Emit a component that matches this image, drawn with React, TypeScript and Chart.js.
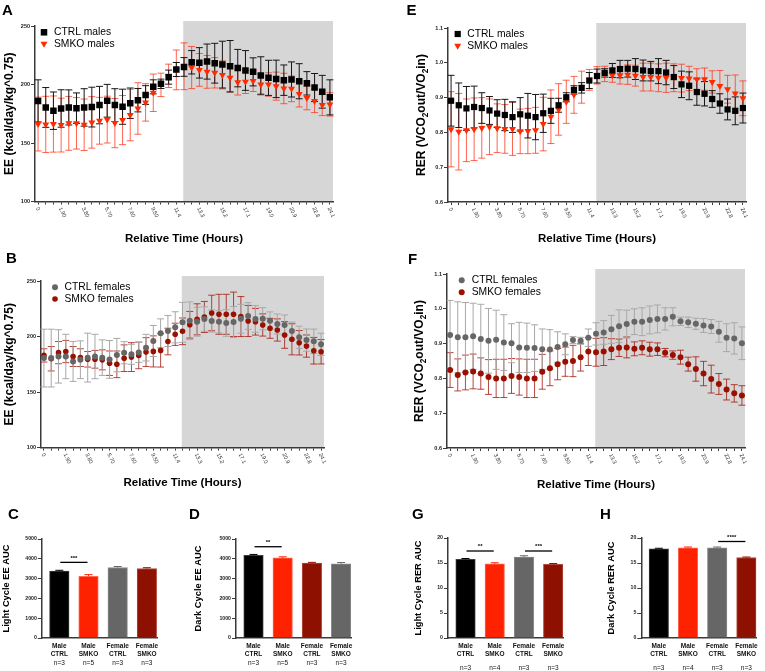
import React, { useEffect, useRef } from 'react';
import { Chart, registerables } from 'chart.js';

Chart.register(...registerables);

const FONT = '"Liberation Sans", Arial, Helvetica, sans-serif';
Chart.defaults.font.family = FONT;

// ---------------- data ----------------
const timeTickLabels = ['0', '1.90', '3.80', '5.70', '7.60', '9.50', '11.4', '13.3', '15.2', '17.1', '19.0', '20.9', '22.8', '24.1'];
const timeTickIndex = [0, 3, 6, 9, 12, 15, 18, 21, 24, 27, 30, 33, 36, 38];
const darkPhaseStart = 18.9; // measurement index where the dark phase starts

// A: EE, males
const eeCtrlMales = [186, 180.4, 177.6, 179.5, 180.4, 179.8, 180.4, 180.7, 182.4, 186.1, 182.4, 181, 184, 186.6, 191, 198, 200.6, 206.3, 212.8, 215, 219, 218.5, 219.6, 218.2, 217, 215.6, 214, 212, 210.8, 207.7, 205.7, 204.8, 203.7, 204.3, 202.8, 201, 197.4, 193.8, 189];
const eeCtrlMalesSD = [18, 17, 16, 16, 15, 13, 16, 17, 16, 14, 14, 15, 13, 10, 8, 6, 4, 6, 6, 8, 10, 13, 15, 17, 20, 22, 16, 17, 12, 16, 15, 16, 13, 15, 15, 10, 12, 14, 15];
const eeSmkoMales = [166.2, 165.9, 166.2, 165.3, 166.8, 166.8, 165.6, 167.6, 169, 170, 167, 169.6, 173.9, 179.5, 184.7, 192.9, 199.7, 207.4, 212.5, 215.6, 214.5, 212.5, 210.8, 210, 208.2, 205.7, 202, 202.3, 203, 200, 200, 198.6, 196.6, 196.3, 191.8, 188.4, 186, 182.4, 183];
const eeSmkoMalesSD = [23, 24, 24, 23, 23, 22, 22, 22, 20, 20, 21, 21, 22, 22, 16, 16, 10, 10, 17, 20, 18, 14, 14, 13, 12, 12, 11, 10, 9, 9, 10, 12, 13, 11, 11, 10, 10, 9, 10];

// E: RER, males
const rerCtrlMales = [0.891, 0.878, 0.869, 0.873, 0.870, 0.863, 0.854, 0.850, 0.844, 0.852, 0.848, 0.844, 0.855, 0.862, 0.878, 0.901, 0.922, 0.928, 0.949, 0.962, 0.971, 0.978, 0.982, 0.983, 0.982, 0.978, 0.976, 0.976, 0.972, 0.959, 0.938, 0.934, 0.916, 0.911, 0.896, 0.883, 0.866, 0.862, 0.870];
const rerCtrlMalesSD = [0.073, 0.064, 0.063, 0.06, 0.044, 0.04, 0.04, 0.045, 0.044, 0.048, 0.064, 0.065, 0.055, 0.036, 0.02, 0.013, 0.012, 0.015, 0.023, 0.02, 0.012, 0.02, 0.025, 0.024, 0.03, 0.03, 0.028, 0.036, 0.035, 0.033, 0.038, 0.04, 0.038, 0.035, 0.024, 0.028, 0.03, 0.04, 0.043];
const rerSmkoMales = [0.809, 0.802, 0.806, 0.809, 0.813, 0.816, 0.812, 0.810, 0.810, 0.803, 0.804, 0.806, 0.824, 0.845, 0.866, 0.888, 0.908, 0.930, 0.951, 0.964, 0.968, 0.964, 0.964, 0.966, 0.963, 0.959, 0.959, 0.957, 0.957, 0.957, 0.956, 0.955, 0.953, 0.953, 0.945, 0.933, 0.924, 0.912, 0.898];
const rerSmkoMalesSD = [0.108, 0.11, 0.09, 0.09, 0.087, 0.08, 0.07, 0.07, 0.076, 0.064, 0.065, 0.066, 0.077, 0.077, 0.074, 0.062, 0.053, 0.046, 0.03, 0.025, 0.022, 0.02, 0.025, 0.028, 0.03, 0.04, 0.04, 0.04, 0.042, 0.04, 0.04, 0.035, 0.03, 0.032, 0.032, 0.045, 0.04, 0.053, 0.05];

// B: EE, females
const eeCtrlFemales = [180.6, 180.6, 182.1, 182, 177.6, 179.1, 181, 182, 181, 179.4, 183.3, 185.4, 184, 185.7, 190, 196, 202.9, 205, 208.3, 212.8, 214.2, 213.3, 215.8, 214, 213.3, 212.2, 213, 216, 218.5, 215.8, 216, 214.2, 211.3, 210.4, 205, 199.3, 196.8, 195.7, 193];
const eeCtrlFemalesSD = [26, 26, 24, 20, 18, 17, 22, 20, 16, 17, 15, 10, 9, 9, 12, 14, 13, 14, 14, 18, 17, 13, 11, 10, 10, 12, 14, 13, 12, 12, 10, 8, 9, 9, 8, 10, 10, 11, 10];
const eeSmkoFemales = [183, 180, 185.5, 186.5, 182, 181, 179.5, 179.5, 179, 176, 175, 180.5, 181.5, 183, 186, 186.6, 187.5, 195.5, 202, 204.7, 210.6, 215.5, 217.6, 221.2, 220, 220, 220, 218, 214, 213.3, 210.4, 207.4, 205.9, 201.4, 197.5, 194.4, 191.4, 187.2, 186.3];
const eeSmkoFemalesSD = [6, 11, 10, 10, 9, 8, 7, 8, 9, 11, 12, 12, 13, 12, 13, 14, 15, 12, 10, 12, 12, 14, 14, 16, 18, 18, 20, 18, 14, 12, 10, 9, 10, 12, 14, 11, 10, 12, 11];

// F: RER, females
const rerCtrlFemales = [0.925, 0.918, 0.918, 0.921, 0.913, 0.908, 0.911, 0.903, 0.901, 0.889, 0.888, 0.887, 0.884, 0.883, 0.890, 0.898, 0.910, 0.908, 0.917, 0.928, 0.932, 0.941, 0.950, 0.956, 0.963, 0.963, 0.968, 0.971, 0.971, 0.977, 0.964, 0.961, 0.957, 0.952, 0.949, 0.934, 0.917, 0.915, 0.901];
const rerCtrlFemalesSD = [0.099, 0.102, 0.1, 0.095, 0.1, 0.093, 0.085, 0.08, 0.056, 0.072, 0.071, 0.067, 0.058, 0.057, 0.044, 0.03, 0.01, 0.01, 0.025, 0.032, 0.034, 0.04, 0.047, 0.04, 0.037, 0.04, 0.04, 0.04, 0.032, 0.026, 0.012, 0.015, 0.016, 0.02, 0.02, 0.03, 0.04, 0.045, 0.047];
const rerSmkoFemales = [0.824, 0.810, 0.817, 0.820, 0.814, 0.804, 0.800, 0.800, 0.807, 0.804, 0.800, 0.800, 0.819, 0.829, 0.841, 0.848, 0.850, 0.861, 0.877, 0.875, 0.877, 0.884, 0.888, 0.889, 0.885, 0.888, 0.884, 0.884, 0.874, 0.867, 0.861, 0.841, 0.827, 0.814, 0.798, 0.784, 0.768, 0.757, 0.751];
const rerSmkoFemalesSD = [0.05, 0.046, 0.05, 0.05, 0.045, 0.05, 0.055, 0.055, 0.05, 0.052, 0.055, 0.055, 0.05, 0.05, 0.045, 0.042, 0.045, 0.04, 0.04, 0.04, 0.04, 0.03, 0.025, 0.03, 0.02, 0.02, 0.02, 0.018, 0.012, 0.012, 0.02, 0.02, 0.035, 0.035, 0.04, 0.03, 0.03, 0.025, 0.028];

// C, D, G, H: AUC bars
const groupLabels = [['Male', 'CTRL'], ['Male', 'SMKO'], ['Female', 'CTRL'], ['Female', 'SMKO']];
const groupNsEE = ['n=3', 'n=5', 'n=3', 'n=3'];
const groupNsRER = ['n=3', 'n=4', 'n=3', 'n=3'];
const lightEE = [3380, 3120, 3560, 3510];
const lightEESD = [40, 80, 50, 40];
const darkEE = [4180, 4050, 3780, 3750];
const darkEESD = [40, 50, 40, 60];
const lightRER = [15.75, 14.85, 16.2, 14.75];
const lightRERSD = [0.15, 0.2, 0.25, 0.15];
const darkRER = [17.85, 18.05, 18.05, 16.1];
const darkRERSD = [0.1, 0.15, 0.15, 0.1];
const sigLightEE = [{ from: 0, to: 1, y: 3820, label: '***' }];
const sigDarkEE = [{ from: 0, to: 1, y: 4610, label: '**' }];
const sigLightRER = [{ from: 0, to: 1, y: 17.4, label: '**' }, { from: 2, to: 3, y: 17.4, label: '***' }];
const sigDarkRER = [{ from: 2, to: 3, y: 19.3, label: '****' }];

// ---------------- styles ----------------
const AXIS = '#3a3a3a';
const C_BLACK = '#000000';
const C_RED = '#ff2a00';
const C_GRAY = '#666666';
const C_DRED = '#9a1000';
const SHADE = '#d6d6d6';

type Seg = { t: string; sub?: boolean };
type Box = { x: number; y: number; w: number; h: number };
type Area = { l: number; t: number; r: number; b: number };

function drawRich(ctx: CanvasRenderingContext2D, segs: Seg[], cx: number, cy: number, size: number) {
  const main = `bold ${size}px ${FONT}`;
  const sub = `bold ${(size * 0.68).toFixed(1)}px ${FONT}`;
  let total = 0;
  const widths = segs.map((s) => {
    ctx.font = s.sub ? sub : main;
    const w = ctx.measureText(s.t).width;
    total += w;
    return w;
  });
  ctx.save();
  ctx.translate(cx, cy);
  ctx.rotate(-Math.PI / 2);
  ctx.textAlign = 'left';
  ctx.textBaseline = 'middle';
  ctx.fillStyle = '#000';
  let x = -total / 2;
  segs.forEach((s, i) => {
    ctx.font = s.sub ? sub : main;
    ctx.fillText(s.t, x, s.sub ? size * 0.3 : 0);
    x += widths[i];
  });
  ctx.restore();
}

function drawMarker(ctx: CanvasRenderingContext2D, style: string, x: number, y: number, r: number, color: string) {
  ctx.save();
  ctx.fillStyle = color;
  ctx.beginPath();
  if (style === 'rect') {
    const h = r * Math.SQRT1_2;
    ctx.rect(x - h, y - h, 2 * h, 2 * h);
  } else if (style === 'triangle') {
    for (let k = 0; k < 3; k++) {
      const ang = Math.PI + (k * 2 * Math.PI) / 3;
      const px = x + Math.sin(ang) * r;
      const py = y - Math.cos(ang) * r;
      if (k === 0) ctx.moveTo(px, py);
      else ctx.lineTo(px, py);
    }
    ctx.closePath();
  } else {
    ctx.arc(x, y, r, 0, Math.PI * 2);
  }
  ctx.fill();
  ctx.restore();
}

type Series = { label: string; mean: number[]; sd: number[]; color: string; errColor: string; style: string; radius: number };

type TimePanel = {
  box: Box; area: Area; yMin: number; yMax: number; yStep: number; yDec: number;
  letter: string; letterPos: [number, number]; yTitle: Seg[]; yTitleX: number; xTitleY: number;
  legend: { x: number; y: number; dy: number; dx: number };
  series: Series[];
};

function makeTimeConfig(p: TimePanel): any {
  const datasets = p.series.map((s) => ({
    label: s.label,
    data: s.mean.map((v, i) => ({ x: i, y: v })),
    sd: s.sd,
    errColor: s.errColor,
    showLine: false,
    pointStyle: s.style,
    pointRadius: s.radius,
    pointHoverRadius: s.radius,
    pointRotation: s.style === 'triangle' ? 180 : 0,
    pointBorderWidth: 0,
    backgroundColor: s.color,
    borderColor: s.color,
  }));
  const shade = {
    id: 'shade',
    beforeDraw(chart: any) {
      const { ctx, chartArea: a } = chart;
      const xs = chart.scales.x;
      const x0 = xs.getPixelForValue(darkPhaseStart);
      ctx.save();
      ctx.fillStyle = SHADE;
      ctx.fillRect(x0, a.top - 5, a.right - x0, a.bottom - a.top + 5);
      ctx.restore();
    },
  };
  const errors = {
    id: 'errors',
    beforeDatasetsDraw(chart: any) {
      const { ctx } = chart;
      const ys = chart.scales.y;
      for (let di = chart.data.datasets.length - 1; di >= 0; di--) {
        const ds = chart.data.datasets[di];
        const meta = chart.getDatasetMeta(di);
        ctx.save();
        ctx.strokeStyle = ds.errColor;
        ctx.lineWidth = 1;
        meta.data.forEach((pt: any, i: number) => {
          const v = ds.data[i].y;
          const e = ds.sd[i];
          const x = pt.x;
          const y1 = ys.getPixelForValue(v + e);
          const y2 = ys.getPixelForValue(v - e);
          ctx.beginPath();
          ctx.moveTo(x, y1);
          ctx.lineTo(x, y2);
          ctx.moveTo(x - 3.5, y1);
          ctx.lineTo(x + 3.5, y1);
          ctx.moveTo(x - 3.5, y2);
          ctx.lineTo(x + 3.5, y2);
          ctx.stroke();
        });
        ctx.restore();
      }
    },
  };
  const texts = {
    id: 'texts',
    afterDraw(chart: any) {
      const { ctx, chartArea: a } = chart;
      const xs = chart.scales.x;
      const ox = p.box.x;
      const oy = p.box.y;
      ctx.save();
      ctx.fillStyle = '#000';
      ctx.font = `bold 15px ${FONT}`;
      ctx.textAlign = 'left';
      ctx.textBaseline = 'alphabetic';
      ctx.fillText(p.letter, p.letterPos[0] - ox, p.letterPos[1] - oy);
      // rotated time tick labels
      ctx.font = `5.5px ${FONT}`;
      ctx.fillStyle = '#333';
      timeTickIndex.forEach((idx, k) => {
        const x = xs.getPixelForValue(idx);
        ctx.save();
        ctx.translate(x - 1, a.bottom + 6);
        ctx.rotate((65 * Math.PI) / 180);
        ctx.textAlign = 'left';
        ctx.textBaseline = 'middle';
        ctx.fillText(timeTickLabels[k], 0, 0);
        ctx.restore();
      });
      ctx.fillStyle = '#000';
      ctx.font = `bold 11.5px ${FONT}`;
      ctx.textAlign = 'center';
      ctx.textBaseline = 'middle';
      ctx.fillText('Relative Time (Hours)', (a.left + a.right) / 2, p.xTitleY - oy);
      drawRich(ctx, p.yTitle, p.yTitleX - ox, (a.top + a.bottom) / 2, 12);
      // legend
      p.series.forEach((s, k) => {
        const lx = p.legend.x - ox;
        const ly = p.legend.y + k * p.legend.dy - oy;
        drawMarker(ctx, s.style, lx, ly, s.radius, s.color);
        ctx.fillStyle = '#000';
        ctx.font = `10.3px ${FONT}`;
        ctx.textAlign = 'left';
        ctx.textBaseline = 'middle';
        ctx.fillText(s.label, lx + p.legend.dx, ly);
      });
      ctx.restore();
    },
  };
  return {
    type: 'scatter',
    data: { datasets },
    options: {
      responsive: false,
      animation: false,
      events: [],
      layout: { padding: { top: p.area.t - p.box.y, right: p.box.x + p.box.w - p.area.r, left: 0, bottom: 0 } },
      plugins: { legend: { display: false }, tooltip: { enabled: false } },
      scales: {
        x: {
          type: 'linear',
          min: -0.4,
          max: 38.4,
          offset: false,
          grid: { display: true, drawOnChartArea: false, drawTicks: true, tickLength: 3, color: AXIS, lineWidth: 1, offset: false },
          border: { display: true, color: AXIS, width: 1.5 },
          ticks: { display: false, autoSkip: false },
          afterBuildTicks: (s: any) => {
            s.ticks = p.series[0].mean.map((_, i) => ({ value: i }));
          },
          afterFit: (s: any) => {
            s.height = p.box.y + p.box.h - p.area.b;
            s.paddingLeft = 0;
            s.paddingRight = 0;
          },
        },
        y: {
          type: 'linear',
          min: p.yMin,
          max: p.yMax,
          grid: { display: true, drawOnChartArea: false, drawTicks: true, tickLength: 4, color: AXIS, lineWidth: 1 },
          border: { display: true, color: AXIS, width: 1.5 },
          ticks: {
            stepSize: p.yStep,
            padding: 1,
            color: '#222',
            font: { size: 5.5, weight: 'bold' },
            callback: (v: any) => Number(v).toFixed(p.yDec),
          },
          afterFit: (s: any) => {
            s.width = p.area.l - p.box.x;
            s.paddingTop = 0;
            s.paddingBottom = 0;
          },
        },
      },
    },
    plugins: [shade, errors, texts],
  };
}

type BarPanel = {
  box: Box; area: Area; yMax: number; yStep: number;
  values: number[]; sd: number[]; colors: string[]; borders: string[];
  ns: string[]; sig: { from: number; to: number; y: number; label: string }[];
  letter: string; letterPos: [number, number]; yTitle: Seg[]; yTitleX: number;
  rowsY: [number, number, number];
};

function makeBarConfig(p: BarPanel): any {
  const extras = {
    id: 'barExtras',
    afterDatasetsDraw(chart: any) {
      const { ctx } = chart;
      const ys = chart.scales.y;
      const xs = chart.scales.x;
      const meta = chart.getDatasetMeta(0);
      ctx.save();
      meta.data.forEach((bar: any, i: number) => {
        const top = ys.getPixelForValue(p.values[i] + p.sd[i]);
        ctx.strokeStyle = p.colors[i];
        ctx.lineWidth = 1;
        ctx.beginPath();
        ctx.moveTo(bar.x, bar.y);
        ctx.lineTo(bar.x, top);
        ctx.moveTo(bar.x - 4, top);
        ctx.lineTo(bar.x + 4, top);
        ctx.stroke();
      });
      p.sig.forEach((s) => {
        const y = ys.getPixelForValue(s.y);
        const x1 = xs.getPixelForValue(s.from) + 1;
        const x2 = xs.getPixelForValue(s.to) - 1;
        ctx.strokeStyle = '#000';
        ctx.lineWidth = 1.3;
        ctx.beginPath();
        ctx.moveTo(x1, y);
        ctx.lineTo(x2, y);
        ctx.stroke();
        ctx.fillStyle = '#000';
        ctx.font = `bold 6px ${FONT}`;
        ctx.textAlign = 'center';
        ctx.textBaseline = 'middle';
        ctx.fillText(s.label, (x1 + x2) / 2, y - 4.5);
      });
      ctx.restore();
    },
    afterDraw(chart: any) {
      const { ctx, chartArea: a } = chart;
      const xs = chart.scales.x;
      const ox = p.box.x;
      const oy = p.box.y;
      ctx.save();
      ctx.fillStyle = '#000';
      ctx.font = `bold 15px ${FONT}`;
      ctx.textAlign = 'left';
      ctx.textBaseline = 'alphabetic';
      ctx.fillText(p.letter, p.letterPos[0] - ox, p.letterPos[1] - oy);
      drawRich(ctx, p.yTitle, p.yTitleX - ox, (a.top + a.bottom) / 2, 9.3);
      ctx.textAlign = 'center';
      ctx.textBaseline = 'middle';
      groupLabels.forEach((g, i) => {
        const x = xs.getPixelForValue(i);
        ctx.fillStyle = '#111';
        ctx.font = `bold 6.5px ${FONT}`;
        ctx.fillText(g[0], x, p.rowsY[0] - oy);
        ctx.fillText(g[1], x, p.rowsY[1] - oy);
        ctx.font = `6.5px ${FONT}`;
        ctx.fillText(p.ns[i], x, p.rowsY[2] - oy);
      });
      ctx.restore();
    },
  };
  return {
    type: 'bar',
    data: {
      datasets: [
        {
          data: p.values.map((v, i) => ({ x: i, y: v })),
          backgroundColor: p.colors,
          borderColor: p.borders,
          borderWidth: 1,
          barThickness: 19.5,
        },
      ],
    },
    options: {
      responsive: false,
      animation: false,
      events: [],
      layout: { padding: { top: p.area.t - p.box.y, right: p.box.x + p.box.w - p.area.r, left: 0, bottom: 0 } },
      plugins: { legend: { display: false }, tooltip: { enabled: false } },
      scales: {
        x: {
          type: 'linear',
          min: -0.6,
          max: 3.35,
          offset: false,
          grid: { display: false, offset: false },
          border: { display: true, color: AXIS, width: 1.5 },
          ticks: { display: false },
          afterFit: (s: any) => {
            s.height = p.box.y + p.box.h - p.area.b;
            s.paddingLeft = 0;
            s.paddingRight = 0;
          },
        },
        y: {
          type: 'linear',
          min: 0,
          max: p.yMax,
          grid: { display: true, drawOnChartArea: false, drawTicks: true, tickLength: 4, color: AXIS, lineWidth: 1 },
          border: { display: true, color: AXIS, width: 1.5 },
          ticks: {
            stepSize: p.yStep,
            padding: 1,
            color: '#222',
            font: { size: 5.2, weight: 'bold' },
            callback: (v: any) => String(Math.round(Number(v))),
          },
          afterFit: (s: any) => {
            s.width = p.area.l - p.box.x;
            s.paddingTop = 0;
            s.paddingBottom = 0;
          },
        },
      },
    },
    plugins: [extras],
  };
}

// ---------------- panels ----------------
const eeTitle: Seg[] = [{ t: 'EE (kcal/day/kg^0.75)' }];
const rerTitle: Seg[] = [{ t: 'RER (VCO' }, { t: '2', sub: true }, { t: 'out/VO' }, { t: '2', sub: true }, { t: 'in)' }];

const panelA: TimePanel = {
  box: { x: 0, y: 0, w: 380, h: 250 },
  area: { l: 35, t: 26, r: 333, b: 201.5 },
  yMin: 100, yMax: 250, yStep: 50, yDec: 0,
  letter: 'A', letterPos: [2, 15], yTitle: eeTitle, yTitleX: 10, xTitleY: 239,
  legend: { x: 44, y: 32.3, dy: 11.5, dx: 10 },
  series: [
    { label: 'CTRL males', mean: eeCtrlMales, sd: eeCtrlMalesSD, color: C_BLACK, errColor: '#161616', style: 'rect', radius: 4.6 },
    { label: 'SMKO males', mean: eeSmkoMales, sd: eeSmkoMalesSD, color: C_RED, errColor: 'rgba(255,50,20,0.75)', style: 'triangle', radius: 4 },
  ],
};

const panelE: TimePanel = {
  box: { x: 383, y: 0, w: 382, h: 250 },
  area: { l: 448, t: 28, r: 746, b: 202 },
  yMin: 0.6, yMax: 1.1, yStep: 0.1, yDec: 1,
  letter: 'E', letterPos: [406.5, 15], yTitle: rerTitle, yTitleX: 422, xTitleY: 239,
  legend: { x: 457.7, y: 34, dy: 11.7, dx: 9.5 },
  series: [
    { label: 'CTRL males', mean: rerCtrlMales, sd: rerCtrlMalesSD, color: C_BLACK, errColor: '#161616', style: 'rect', radius: 4.4 },
    { label: 'SMKO males', mean: rerSmkoMales, sd: rerSmkoMalesSD, color: C_RED, errColor: 'rgba(255,50,20,0.75)', style: 'triangle', radius: 4 },
  ],
};

const panelB: TimePanel = {
  box: { x: 0, y: 250, w: 380, h: 246 },
  area: { l: 41, t: 281, r: 324, b: 447.6 },
  yMin: 100, yMax: 250, yStep: 50, yDec: 0,
  letter: 'B', letterPos: [6, 263], yTitle: eeTitle, yTitleX: 10, xTitleY: 483.3,
  legend: { x: 55, y: 287.3, dy: 11.7, dx: 9.5 },
  series: [
    { label: 'CTRL females', mean: eeCtrlFemales, sd: eeCtrlFemalesSD, color: C_GRAY, errColor: '#a8a8a8', style: 'circle', radius: 3 },
    { label: 'SMKO females', mean: eeSmkoFemales, sd: eeSmkoFemalesSD, color: C_DRED, errColor: 'rgba(165,25,15,0.8)', style: 'circle', radius: 2.8 },
  ],
};

const panelF: TimePanel = {
  box: { x: 383, y: 250, w: 382, h: 246 },
  area: { l: 447, t: 274, r: 745, b: 448 },
  yMin: 0.6, yMax: 1.1, yStep: 0.1, yDec: 1,
  letter: 'F', letterPos: [408, 264], yTitle: rerTitle, yTitleX: 420, xTitleY: 485,
  legend: { x: 461.7, y: 280.3, dy: 12, dx: 10 },
  series: [
    { label: 'CTRL females', mean: rerCtrlFemales, sd: rerCtrlFemalesSD, color: C_GRAY, errColor: '#a8a8a8', style: 'circle', radius: 3 },
    { label: 'SMKO females', mean: rerSmkoFemales, sd: rerSmkoFemalesSD, color: C_DRED, errColor: 'rgba(165,25,15,0.8)', style: 'circle', radius: 3 },
  ],
};

const barColors = [C_BLACK, '#ff2200', C_GRAY, '#8e1000'];
const barBorders = ['#3c3c3c', '#ff6a55', '#8a8a8a', '#b04a3e'];
const barColorsD = [C_BLACK, '#ff2200', '#8e1000', C_GRAY];
const barBordersD = ['#3c3c3c', '#ff6a55', '#b04a3e', '#8a8a8a'];

const panelC: BarPanel = {
  box: { x: 0, y: 498, w: 185, h: 173 },
  area: { l: 41.8, t: 539, r: 157.1, b: 638 },
  yMax: 5000, yStep: 1000, values: lightEE, sd: lightEESD, colors: barColors, borders: barBorders,
  ns: groupNsEE, sig: sigLightEE, letter: 'C', letterPos: [8, 519],
  yTitle: [{ t: 'Light Cycle EE AUC' }], yTitleX: 6, rowsY: [646.7, 654.3, 663.5],
};

const panelD: BarPanel = {
  box: { x: 185, y: 498, w: 190, h: 173 },
  area: { l: 236, t: 539, r: 351.3, b: 638 },
  yMax: 5000, yStep: 1000, values: darkEE, sd: darkEESD, colors: barColorsD, borders: barBordersD,
  ns: groupNsEE, sig: sigDarkEE, letter: 'D', letterPos: [189, 519],
  yTitle: [{ t: 'Dark Cycle EE AUC' }], yTitleX: 198, rowsY: [646.7, 654.3, 663.5],
};

const panelG: BarPanel = {
  box: { x: 383, y: 498, w: 192, h: 173 },
  area: { l: 448, t: 538, r: 563.4, b: 638 },
  yMax: 20, yStep: 5, values: lightRER, sd: lightRERSD, colors: barColors, borders: barBorders,
  ns: groupNsRER, sig: sigLightRER, letter: 'G', letterPos: [412, 519],
  yTitle: [{ t: 'Light Cycle RER AUC' }], yTitleX: 418.7, rowsY: [646.7, 654.3, 668],
};

const panelH: BarPanel = {
  box: { x: 575, y: 498, w: 190, h: 173 },
  area: { l: 641.3, t: 538, r: 756.6, b: 638 },
  yMax: 20, yStep: 5, values: darkRER, sd: darkRERSD, colors: barColors, borders: barBorders,
  ns: groupNsRER, sig: sigDarkRER, letter: 'H', letterPos: [600, 519],
  yTitle: [{ t: 'Dark Cycle RER AUC' }], yTitleX: 611.7, rowsY: [646.7, 654.3, 668],
};

// ---------------- components ----------------
function ChartCanvas({ box, make }: { box: Box; make: () => any }) {
  const ref = useRef<HTMLCanvasElement>(null);
  useEffect(() => {
    const chart = new Chart(ref.current as HTMLCanvasElement, make());
    return () => chart.destroy();
  }, []);
  return (
    <canvas
      ref={ref}
      width={box.w}
      height={box.h}
      style={{ position: 'absolute', left: box.x, top: box.y, width: box.w, height: box.h }}
    />
  );
}

export default function App() {
  const timePanels = [panelA, panelE, panelB, panelF];
  const barPanels = [panelC, panelD, panelG, panelH];
  return (
    <div style={{ position: 'absolute', left: 0, top: 0, width: 765, height: 671, background: '#fff', overflow: 'hidden' }}>
      {timePanels.map((p) => (
        <ChartCanvas key={p.letter} box={p.box} make={() => makeTimeConfig(p)} />
      ))}
      {barPanels.map((p) => (
        <ChartCanvas key={p.letter} box={p.box} make={() => makeBarConfig(p)} />
      ))}
    </div>
  );
}
